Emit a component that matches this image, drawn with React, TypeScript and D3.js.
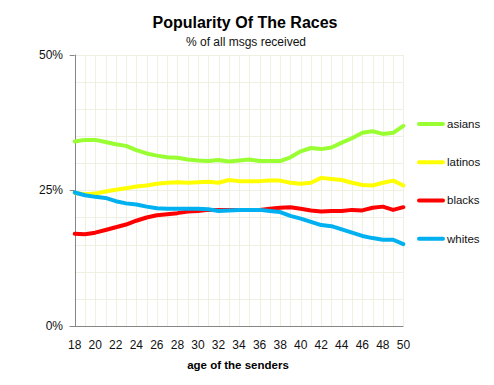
import React from 'react';
import * as d3 from 'd3';

// age of the senders (x categories)
const ages = [18, 19, 20, 21, 22, 23, 24, 25, 26, 27, 28, 29, 30, 31, 32, 33, 34,
  35, 36, 37, 38, 39, 40, 41, 42, 43, 44, 45, 46, 47, 48, 49, 50];
const ageTicks = [18, 20, 22, 24, 26, 28, 30, 32, 34, 36, 38, 40, 42, 44, 46, 48, 50];
const pctTicks = [0, 25, 50];

// % of all msgs received, per series
const asians = [34.0, 34.3, 34.3, 33.9, 33.5, 33.2, 32.4, 31.8, 31.4, 31.1, 31.0, 30.7, 30.5, 30.4, 30.6, 30.3, 30.5,
  30.7, 30.4, 30.4, 30.4, 31.1, 32.2, 32.8, 32.6, 32.9, 33.8, 34.6, 35.6, 35.9, 35.4, 35.6, 36.9];
const latinos = [24.5, 24.3, 24.4, 24.8, 25.1, 25.4, 25.7, 25.9, 26.2, 26.4, 26.5, 26.4, 26.5, 26.6, 26.4, 26.9, 26.7,
  26.7, 26.7, 26.8, 26.8, 26.4, 26.2, 26.4, 27.3, 27.1, 26.9, 26.4, 26.0, 25.9, 26.4, 26.8, 25.9];
const blacks = [17.0, 16.9, 17.2, 17.7, 18.2, 18.7, 19.4, 20.0, 20.4, 20.6, 20.8, 21.1, 21.2, 21.4, 21.4, 21.4, 21.4,
  21.4, 21.4, 21.6, 21.8, 21.9, 21.6, 21.3, 21.1, 21.2, 21.2, 21.4, 21.3, 21.8, 22.0, 21.4, 21.9];
const whites = [24.6, 24.1, 23.8, 23.6, 23.0, 22.6, 22.4, 22.0, 21.7, 21.6, 21.6, 21.6, 21.6, 21.5, 21.2, 21.3, 21.4,
  21.4, 21.4, 21.2, 21.0, 20.3, 19.8, 19.2, 18.6, 18.4, 17.8, 17.2, 16.6, 16.2, 15.9, 15.9, 15.1];

const seriesNames = ['asians', 'latinos', 'blacks', 'whites'];
const seriesValues = [asians, latinos, blacks, whites];
const seriesColors = ['#99ff33', '#ffff00', '#ff0000', '#00b0f0'];

const FONT = '"Liberation Sans", Arial, sans-serif';

export default class App extends React.Component {
  node: SVGSVGElement | null = null;

  componentDidMount() {
    this.drawChart();
  }

  drawChart() {
    const svg = d3.select(this.node);
    svg.selectAll('*').remove();

    const x = d3.scaleLinear().domain([18, 50]).range([74.7, 403.4]);
    const y = d3.scaleLinear().domain([0, 50]).range([326, 54.7]);

    // grid: one line per year, one every 5%
    const grid = svg.append('g').attr('stroke', '#efefe2').attr('stroke-width', 1);
    grid.selectAll('.vgrid')
      .data(ages.slice(1))
      .enter().append('line')
      .attr('x1', d => Math.round(x(d)) + 0.5)
      .attr('x2', d => Math.round(x(d)) + 0.5)
      .attr('y1', y(50))
      .attr('y2', y(0));
    grid.selectAll('.hgrid')
      .data(d3.range(5, 51, 5))
      .enter().append('line')
      .attr('x1', x(18))
      .attr('x2', x(50))
      .attr('y1', d => Math.round(y(d)) + 0.5)
      .attr('y2', d => Math.round(y(d)) + 0.5);

    // axes
    const axis = svg.append('g').attr('stroke', '#868686').attr('stroke-width', 1);
    axis.append('line')
      .attr('x1', Math.round(x(18)) + 0.5).attr('x2', Math.round(x(18)) + 0.5)
      .attr('y1', y(50)).attr('y2', y(0));
    axis.append('line')
      .attr('x1', x(18) - 5).attr('x2', x(50))
      .attr('y1', Math.round(y(0)) + 0.5).attr('y2', Math.round(y(0)) + 0.5);
    axis.selectAll('.ytick')
      .data(pctTicks)
      .enter().append('line')
      .attr('x1', x(18) - 5).attr('x2', x(18))
      .attr('y1', d => Math.round(y(d)) + 0.5)
      .attr('y2', d => Math.round(y(d)) + 0.5);

    svg.selectAll('.ylabel')
      .data(pctTicks)
      .enter().append('text')
      .attr('x', 63)
      .attr('y', d => y(d) + 4)
      .attr('text-anchor', 'end')
      .attr('font-family', FONT)
      .attr('font-size', 12)
      .attr('fill', '#111')
      .text(d => d + '%');

    svg.selectAll('.xlabel')
      .data(ageTicks)
      .enter().append('text')
      .attr('x', d => x(d))
      .attr('y', 349)
      .attr('text-anchor', 'middle')
      .attr('font-family', FONT)
      .attr('font-size', 12)
      .attr('fill', '#111')
      .text(d => d);

    svg.append('text')
      .attr('x', 238).attr('y', 369)
      .attr('text-anchor', 'middle')
      .attr('font-family', FONT)
      .attr('font-size', 11.5)
      .attr('font-weight', 'bold')
      .attr('fill', '#000')
      .text('age of the senders');

    // titles
    svg.append('text')
      .attr('x', 245).attr('y', 28)
      .attr('text-anchor', 'middle')
      .attr('font-family', FONT)
      .attr('font-size', 16)
      .attr('font-weight', 'bold')
      .attr('fill', '#000')
      .text('Popularity Of The Races');
    svg.append('text')
      .attr('x', 246).attr('y', 46)
      .attr('text-anchor', 'middle')
      .attr('font-family', FONT)
      .attr('font-size', 12)
      .attr('fill', '#111')
      .text('% of all msgs received');

    // series lines
    const line = d3.line<number>()
      .x((d, i) => x(ages[i]))
      .y(d => y(d));

    seriesValues.forEach((vals, i) => {
      svg.append('path')
        .datum(vals)
        .attr('d', line)
        .attr('fill', 'none')
        .attr('stroke', seriesColors[i])
        .attr('stroke-width', 4)
        .attr('stroke-linejoin', 'round')
        .attr('stroke-linecap', 'round');
    });

    // legend
    const legendY = d3.scalePoint<string>().domain(seriesNames).range([124, 238.7]);
    const legend = svg.selectAll('.legend')
      .data(seriesNames)
      .enter().append('g')
      .attr('transform', d => 'translate(419,' + legendY(d) + ')');
    legend.append('line')
      .attr('x1', 0).attr('x2', 24)
      .attr('stroke', (d, i) => seriesColors[i])
      .attr('stroke-width', 4)
      .attr('stroke-linecap', 'round');
    legend.append('text')
      .attr('x', 28)
      .attr('y', 4)
      .attr('font-family', FONT)
      .attr('font-size', 11.5)
      .attr('fill', '#111')
      .text(d => d);
  }

  render() {
    return (
      <svg
        ref={node => { this.node = node; }}
        width={494}
        height={385}
        style={{ position: 'absolute', left: 0, top: 0, background: '#fff' }}
      />
    );
  }
}
